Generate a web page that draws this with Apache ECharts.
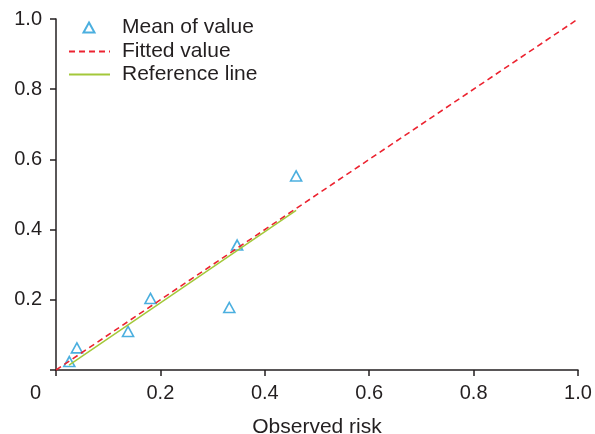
<!DOCTYPE html>
<html>
<head>
<meta charset="utf-8">
<script src="https://cdn.jsdelivr.net/npm/echarts@6/dist/echarts.min.js"></script>
<style>
html,body{margin:0;padding:0;background:#fff;}
#chart{width:595px;height:434px;}
</style>
</head>
<body>
<div id="chart"></div>
<script>
// Data
const observedRisk = [0.0255, 0.040, 0.138, 0.181, 0.332, 0.347, 0.460];
const meanOfValue  = [0.024, 0.063, 0.110, 0.204, 0.178, 0.356, 0.553];
const fittedX = [0, 1];
const fittedY = [0, 1];
const refX = [0.025, 0.460];
const refY = [0.014, 0.455];
const xTicks = [0, 0.2, 0.4, 0.6, 0.8, 1.0];
const yTicks = [0, 0.2, 0.4, 0.6, 0.8, 1.0];
const seriesNames = ['Mean of value', 'Fitted value', 'Reference line'];
const xAxisName = 'Observed risk';

const FONT = '"Liberation Sans", Arial, Helvetica, sans-serif';
const TXT = '#231f20';
const AX = '#231f20';

const chart = echarts.init(document.getElementById('chart'), null, {renderer: 'canvas'});
const pairs = (xs, ys) => xs.map((x, i) => [x, ys[i]]);
const noDot = {color: 'rgba(0,0,0,0)', borderWidth: 0, borderColor: 'rgba(0,0,0,0)'};

chart.setOption({
  animation: false,
  backgroundColor: '#fff',
  textStyle: {fontFamily: FONT},
  grid: {left: 56, top: 19, right: 17, bottom: 64, containLabel: false, outerBoundsMode: 'none'},
  legend: [
    {
      data: [seriesNames[0]],
      orient: 'vertical', left: 82.5, top: 17, padding: 0,
      itemWidth: 11, itemHeight: 10, itemGap: 2,
      textStyle: {fontFamily: FONT, fontSize: 21, color: TXT, lineHeight: 20, padding: [0, 0, 0, 22.5]}
    },
    {
      data: [
        {name: seriesNames[1], itemStyle: noDot},
        {name: seriesNames[2], itemStyle: noDot}
      ],
      orient: 'vertical', left: 68, top: 41, padding: 0,
      itemWidth: 41, itemHeight: 10, itemGap: 2,
      textStyle: {fontFamily: FONT, fontSize: 21, color: TXT, lineHeight: 20, padding: [0, 0, 0, 7]}
    }
  ],
  xAxis: {
    type: 'value', min: xTicks[0], max: xTicks[xTicks.length - 1], interval: 0.2,
    name: xAxisName, nameLocation: 'middle', nameGap: 47,
    nameTextStyle: {fontFamily: FONT, fontSize: 21, color: TXT},
    splitLine: {show: false},
    axisLine: {show: true, lineStyle: {color: AX, width: 1.5}},
    axisTick: {show: true, length: 6, lineStyle: {color: AX, width: 1.5}},
    axisLabel: {
      fontFamily: FONT, fontSize: 20, color: TXT, margin: 13,
      formatter: v => v === 0 ? '{z|0}' : v.toFixed(1),
      rich: {z: {fontFamily: FONT, fontSize: 20, color: TXT, padding: [0, 41, 0, 0]}}
    }
  },
  yAxis: {
    type: 'value', min: yTicks[0], max: yTicks[yTicks.length - 1], interval: 0.2,
    splitLine: {show: false},
    axisLine: {show: true, lineStyle: {color: AX, width: 1.5}},
    axisTick: {show: true, length: 6, lineStyle: {color: AX, width: 1.5}},
    axisLabel: {
      fontFamily: FONT, fontSize: 20, color: TXT, margin: 14,
      formatter: v => v === 0 ? '' : v.toFixed(1)
    }
  },
  series: [
    {
      name: seriesNames[0], type: 'scatter',
      data: pairs(observedRisk, meanOfValue),
      symbol: 'triangle', symbolSize: [11, 10],
      itemStyle: {color: 'rgba(255,255,255,0)', borderColor: '#1e9bd7', borderWidth: 1.6}
    },
    {
      name: seriesNames[1], type: 'line',
      data: pairs(fittedX, fittedY),
      symbol: 'none', showSymbol: false,
      itemStyle: {color: '#ec2330'},
      lineStyle: {color: '#ec2330', width: 1.6, type: [6, 4]}
    },
    {
      name: seriesNames[2], type: 'line',
      data: pairs(refX, refY),
      symbol: 'none', showSymbol: false,
      itemStyle: {color: '#a3c83a'},
      lineStyle: {color: '#a3c83a', width: 1.5}
    }
  ]
});
</script>
</body>
</html>
